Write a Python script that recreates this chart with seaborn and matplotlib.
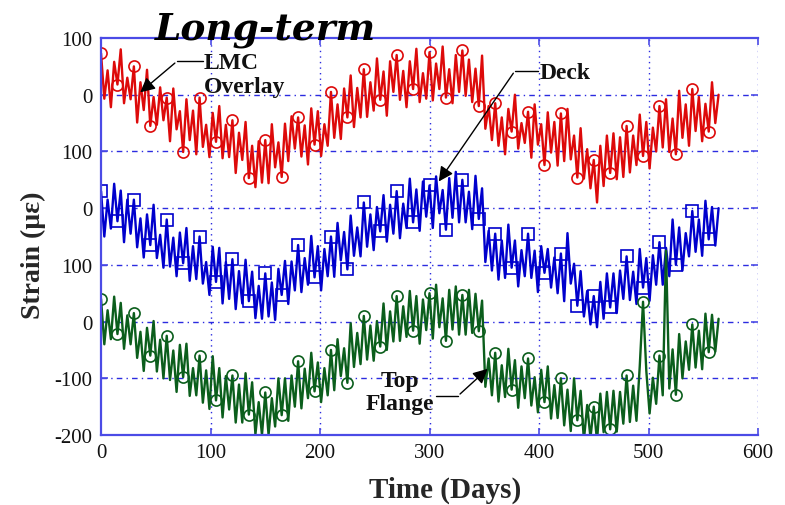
import matplotlib
matplotlib.use("Agg")
import matplotlib.pyplot as plt
import seaborn as sns
import pandas as pd

# ---------------- data (strain in micro-strain, one reading every 3 days) ----------------
days = list(range(0, 565, 3))

lmc_overlay = [
    73, -7, 43, -22, 58, 18, 80, -15, 30, -8,
    50, -49, 22, -27, 44, -55, -4, -53, 13, -45,
    -5, -82, 11, -61, -29, -101, -8, -80, -28, -105,
    -5, -92, -53, -110, -32, -83, -20, -112, -53, -110,
    -45, -138, -67, -115, -48, -147, -90, -163, -82, -155,
    -80, -156, -52, -128, -84, -145, -51, -117, -38, -95,
    -40, -109, -54, -123, -24, -88, -29, -108, -52, -90,
    5, -76, -17, -78, 11, -40, 34, -57, 12, -40,
    45, -39, 22, -28, 64, -9, 41, -37, 59, 5,
    70, -9, 42, -22, 59, 10, 81, -13, 38, -7,
    75, -10, 55, 10, 85, -5, 45, -15, 70, 5,
    78, -2, 62, -13, 46, -20, 69, -60, -20, -80,
    -15, -90, -40, -105, -25, -65, 0, -95, -50, -85,
    -30, -111, -17, -88, -52, -124, -31, -102, -48, -125,
    -33, -117, -25, -114, -72, -146, -59, -148, -96, -165,
    -115, -190, -90, -161, -72, -138, -68, -149, -75, -145,
    -55, -137, -72, -124, -35, -108, -48, -130, -58, -100,
    -20, -93, -8, -101, -42, -105, 7, -76, -17, -90,
    10, -64, -4, -82, -16, -65, 22, -50, 0,
]

deck = [
    30, -50, 15, -36, 43, -23, 31, -60, 15, -45,
    15, -69, -18, -87, -11, -65, 6, -88, -47, -105,
    -20, -103, -52, -120, -43, -97, -35, -128, -67, -125,
    -50, -133, -95, -153, -68, -130, -70, -168, -95, -160,
    -90, -178, -111, -168, -91, -164, -112, -194, -137, -195,
    -115, -191, -131, -197, -107, -153, -93, -169, -94, -145,
    -65, -148, -88, -135, -49, -122, -67, -145, -72, -120,
    -50, -121, -26, -92, -42, -108, -13, -84, -34, -85,
    10, -68, -11, -74, 2, -41, 23, -59, 6, -45,
    30, -53, 8, -35, 52, -25, 33, -40, 47, -15,
    40, -35, 56, -9, 32, -38, 53, -17, 64, -25,
    50, -25, 29, -37, 57, -19, 35, -95, -40, -110,
    -45, -126, -57, -123, -29, -105, -57, -138, -74, -120,
    -45, -123, -75, -148, -67, -114, -72, -140, -87, -150,
    -80, -164, -44, -133, -98, -172, -111, -191, -146, -205,
    -155, -210, -130, -195, -115, -175, -115, -185, -110, -160,
    -85, -162, -112, -169, -72, -140, -88, -163, -83, -135,
    -60, -135, -70, -120, -20, -100, -34, -110, -44, -85,
    -5, -77, -20, -84, 13, -55, 2, -66, 0,
]

top_flange = [
    40, -40, 20, -31, 44, -22, 33, -48, 11, -40,
    15, -64, -18, -87, -11, -60, 1, -88, -32, -100,
    -25, -103, -51, -124, -41, -98, -39, -131, -82, -130,
    -60, -143, -86, -154, -61, -139, -82, -169, -96, -155,
    -95, -178, -111, -178, -91, -164, -107, -199, -142, -200,
    -125, -200, -135, -185, -100, -165, -100, -175, -95, -150,
    -70, -153, -83, -135, -55, -123, -72, -142, -82, -130,
    -50, -121, -31, -96, -47, -108, -3, -80, -20, -75,
    10, -67, -7, -69, 1, -44, 32, -50, 18, -35,
    45, -34, 27, -27, 54, -16, 45, -39, 39, -15,
    50, -30, 65, -10, 41, -34, 56, -14, 62, -23,
    47, -23, 56, -20, 49, -17, 37, -115, -65, -130,
    -55, -141, -77, -133, -48, -120, -68, -152, -79, -135,
    -65, -148, -98, -160, -85, -142, -79, -171, -112, -170,
    -100, -183, -120, -193, -100, -174, -122, -209, -147, -205,
    -150, -211, -127, -195, -124, -190, -122, -194, -124, -180,
    -95, -177, -113, -175, -79, 35, -87, -162, -99, -145,
    -60, -130, 125, -118, -49, -129, -22, -100, -35, -85,
    -5, -81, -16, -84, 14, -54, 12, -53, 5,
]

ytick_values = [-200, -100, 0, 100, 200, 300, 400, 500]
ytick_labels = ["-200", "-100", "0", "100", "0", "100", "0", "100"]
xtick_values = [0, 100, 200, 300, 400, 500, 600]

# ---------------- styling ----------------
sns.set_theme(style="white")
plt.rcParams["font.family"] = ["Liberation Serif", "DejaVu Serif"]

series = [
    ("LMC Overlay", lmc_overlay, 400, "#dd0a0a", "o"),
    ("Deck", deck, 200, "#0000cc", "s"),
    ("Top Flange", top_flange, 0, "#0b5e1c", "o"),
]

fig = plt.figure(figsize=(7.85, 5.06), dpi=100)
ax = fig.add_axes([0.1287, 0.1383, 0.8369, 0.7846])

for name, vals, offset, color, mk in series:
    df = pd.DataFrame({"day": days, "strain": [v + offset for v in vals]})
    sns.lineplot(data=df, x="day", y="strain", ax=ax, color=color, lw=1.7,
                 estimator=None, errorbar=None, marker=mk, markevery=5,
                 markersize=8, markerfacecolor="none", markeredgecolor=color,
                 markeredgewidth=1.2)

ax.set_xlim(0, 600)
ax.set_ylim(-200, 500)
ax.set_xticks(xtick_values)
ax.set_xticklabels([str(v) for v in xtick_values])
ax.set_yticks(ytick_values)
ax.set_yticklabels(ytick_labels)

grid_color = "#2b2be0"
for xv in xtick_values[1:-1]:
    ax.axvline(xv, color=grid_color, lw=1.0, ls=(0, (1, 3)), zorder=0.5)
for yv in ytick_values[1:-1]:
    ax.axhline(yv, color=grid_color, lw=1.0, ls=(0, (4, 3, 1, 3)), zorder=0.5)
ax.axvline(600, color=grid_color, lw=1.0, ls=(0, (1, 3)), zorder=3)

spine_color = "#4b4be6"
for side in ["left", "bottom", "top"]:
    ax.spines[side].set_color(spine_color)
    ax.spines[side].set_linewidth(1.6)
ax.spines["right"].set_visible(False)

ax.tick_params(axis="both", which="both", direction="in", length=5, width=1.2,
               color=spine_color, labelsize=15, labelcolor="#111111",
               top=True, right=True, left=True, bottom=True, pad=6)

ax.set_xlabel("Time (Days)", fontsize=21, fontweight="bold")
ax.xaxis.set_label_coords(0.5236, -0.156)
ax.xaxis.label.set_va("baseline")
ax.set_ylabel("Strain (\u00b5\u03b5)", fontsize=20, fontweight="bold")
ax.yaxis.set_label_coords(-0.1035, 0.456)
ax.yaxis.label.set_va("center")

# ---------------- annotations ----------------
ann_font = dict(fontsize=17, fontweight="bold", color="#111111")

ax.text(94, 436, "LMC\nOverlay", ha="left", va="center", linespacing=1.15, **ann_font)
ax.plot([93, 69.4], [459, 459], color="black", lw=1.0)
ax.annotate("", xy=(33.8, 401), xytext=(69.4, 459),
            arrowprops=dict(arrowstyle="-|>", color="black", lw=1.0, mutation_scale=22))

ax.text(401, 440, "Deck", ha="left", va="center", **ann_font)
ax.plot([399, 378], [442, 442], color="black", lw=1.0)
ax.annotate("", xy=(307, 243), xytext=(378, 442),
            arrowprops=dict(arrowstyle="-|>", color="black", lw=1.0, mutation_scale=22))

ax.text(273, -124, "Top\nFlange", ha="center", va="center", linespacing=1.15, **ann_font)
ax.plot([306, 326], [-131, -131], color="black", lw=1.0)
ax.annotate("", xy=(355, -80), xytext=(326, -131),
            arrowprops=dict(arrowstyle="-|>", color="black", lw=1.0, mutation_scale=22))

fig.text(155 / 785, 1 - 40 / 506, "Long-term", ha="left", va="baseline",
         fontsize=27, fontweight="bold", fontstyle="italic",
         family=["DejaVu Serif"], color="black")

fig.savefig("out.png", dpi=100, facecolor="white")
